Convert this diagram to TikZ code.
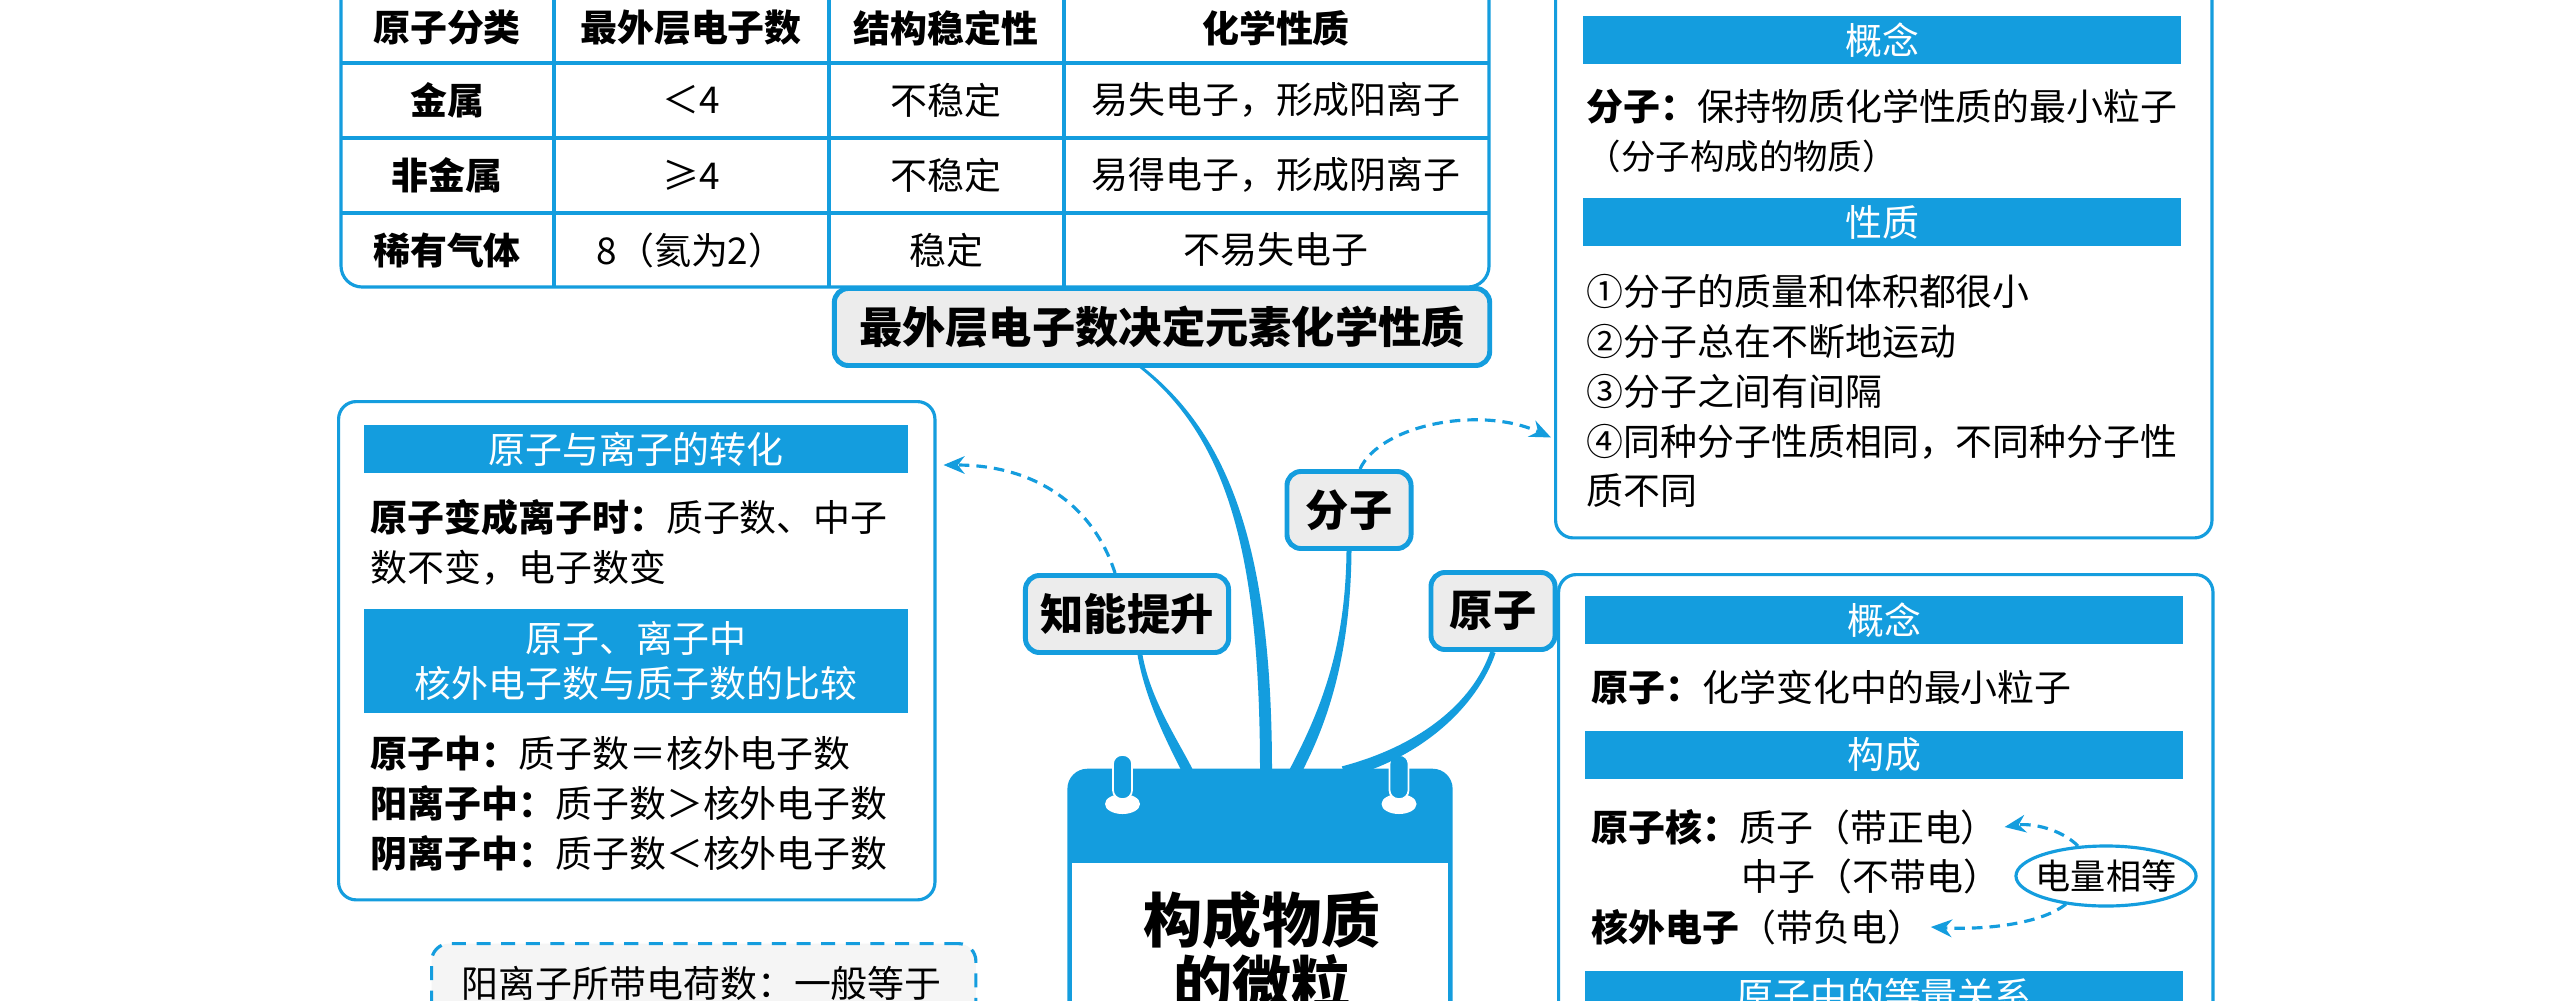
\documentclass[tikz,border=0pt]{standalone}
\usepackage{fontspec}
\setmainfont{Noto Sans CJK SC}
\usepackage{xcolor}
\usepackage{tikz}
\usetikzlibrary{arrows.meta,calc}

\definecolor{mainblue}{RGB}{20,157,222}
\definecolor{boxgray}{RGB}{236,236,236}
\newcommand\bodyfont{\fontsize{10.5pt}{14.2pt}\selectfont}
% thick branch that gets wider towards the calendar
\newcommand\taperlink[6]{%
  \fill[mainblue] ($#1-#5$) .. controls ($#2-#5$) and ($#3-#6$) .. ($#4-#6$)
    -- ($#4+#6$) .. controls ($#3+#6$) and ($#2+#5$) .. ($#1+#5$) -- cycle;}

\begin{document}
\begin{tikzpicture}[x=0.01cm,y=-0.01cm,
  bar/.style={fill=mainblue,text=white,inner sep=0pt,minimum width=5.98cm,minimum height=0.48cm,font=\bodyfont,align=center},
  panel/.style={draw=mainblue,line width=0.9pt,rounded corners=5pt,anchor=north west,inner sep=0pt},
  branch/.style={draw=mainblue,fill=boxgray,line width=1.4pt,rounded corners=4pt,inner sep=0pt,minimum height=0.77cm,font=\bfseries\fontsize{12.3pt}{14pt}\selectfont},
  body/.style={anchor=west,align=left,inner sep=0pt,font=\bodyfont},
  cell/.style={inner sep=0pt,font=\bodyfont},
  tableline/.style={draw=mainblue,line width=0.9pt},
  dasharrow/.style={draw=mainblue,line width=0.9pt,dash pattern=on 3pt off 2pt,-{Stealth[length=6pt,width=5pt]}}]
\path[use as bounding box,fill=white] (0,0) rectangle (2552,1000);
\clip (0,0) rectangle (2552,1000);

% table
\draw[tableline,rounded corners=6pt] (341,-30) -- (341,287) -- (1489,287) -- (1489,-30);
\foreach \x in {554,829,1064} \draw[tableline] (\x,-30) -- (\x,287);
\foreach \y in {63,138,213} \draw[tableline] (341,\y) -- (1489,\y);
\foreach \t/\x [count=\k] in {原子分类/447,最外层电子数/691,结构稳定性/946,化学性质/1276}
  \node[cell,font=\bodyfont\bfseries] (hd-\k) at (\x,28) {\t};
\foreach \a/\b/\c/\d [count=\i] in {金属/＜4/不稳定/易失电子，形成阳离子,非金属/≥4/不稳定/易得电子，形成阴离子,稀有气体/8（氦为2）/稳定/不易失电子}{
  \node[cell,font=\bodyfont\bfseries] (cls-\i) at (447,25+75*\i) {\a};
  \node[cell] (num-\i) at (691,25+75*\i) {\b};
  \node[cell] (stab-\i) at (946,25+75*\i) {\c};
  \node[cell] (prop-\i) at (1276,25+75*\i) {\d};
}
\node[branch,minimum width=6.55cm] (jue) at (1162,327) {最外层电子数决定元素化学性质};

% left panel
\node[panel,minimum width=5.96cm,minimum height=4.98cm] (lbox) at (337,400) {};
\node[bar,minimum width=5.43cm] (lbar1) at (636,449) {原子与离子的转化};
\node[body] (ltxt1) at (370,542) {\textbf{原子变成离子时：}质子数、中子\\数不变，电子数变};
\node[bar,minimum width=5.43cm,minimum height=1.04cm,font=\fontsize{10.5pt}{12.8pt}\selectfont] (lbar2) at (636,661) {原子、离子中\\核外电子数与质子数的比较};
\node[body] (ltxt2) at (370,804) {\textbf{原子中：}质子数＝核外电子数\\\textbf{阳离子中：}质子数＞核外电子数\\\textbf{阴离子中：}质子数＜核外电子数};

\node[panel,dash pattern=on 4pt off 3pt,fill=gray!8,minimum width=5.44cm,minimum height=1.5cm] (dbox) at (430,942) {};
\node[body] (dtxt) at (461,983) {阳离子所带电荷数：一般等于};

% branches
\node[branch,minimum width=2.03cm] (zhi) at (1127,614) {知能提升};
\node[branch,minimum width=1.24cm] (fz) at (1349,510) {分子};
\node[branch,minimum width=1.24cm] (yz) at (1493,611) {原子};

% calendar
\node[fill=mainblue,rounded corners=0.2cm,minimum width=3.85cm,minimum height=4cm,anchor=north,inner sep=0pt] (cal) at (1260,768) {};
\fill[white] ($(cal.north west)+(5,95)$) rectangle ($(cal.south east)+(-5,0)$);
\foreach \x in {-137.5,139}{
  \fill[white] ($(cal.north)+(\x,36)$) ellipse [x radius=0.175cm,y radius=0.1cm];
  \filldraw[fill=mainblue,draw=white,line width=0.5pt,rounded corners=2.5pt] ($(cal.north)+(\x-9.5,-13)$) rectangle ($(cal.north)+(\x+9.5,31)$);
}
\node[font=\bfseries\fontsize{16.8pt}{18pt}\selectfont,align=center,inner sep=0pt] (caltitle) at (1262,951) {构成物质\\的微粒};

\coordinate (j0) at ($(jue.south)+(-20,0)$);
\coordinate (j1) at ($(cal.north)+(6,4)$);
\taperlink{(j0)}{(1232,440)}{(1266,560)}{(j1)}{(2.3,0)}{(6,0)}
\coordinate (z0) at ($(zhi.south)+(13,0)$);
\coordinate (z1) at ($(cal.north)+(-72,4)$);
\taperlink{(z0)}{(1148,700)}{(1172,740)}{(z1)}{(2.5,0)}{(6,0)}
\coordinate (f0) at (fz.south);
\coordinate (f1) at ($(cal.north)+(35,4)$);
\taperlink{(f0)}{(1348,650)}{(1325,715)}{(f1)}{(2.5,0)}{(5.5,2.5)}
\coordinate (y0) at (yz.south);
\coordinate (y1) at ($(cal.north)+(84,4)$);
\taperlink{(y0)}{(1475,705)}{(1420,752)}{(y1)}{(2.5,1)}{(2.2,5.6)}

% right panels
\node[panel,minimum width=6.56cm,minimum height=5.6cm] (rtop) at (1554,-24) {};
\node[bar] (rbar1) at (1882,40) {概念};
\node[body] (rtxt1) at (1586,131) {\textbf{分子：}保持物质化学性质的最小粒子\\{\fontsize{9.8pt}{13pt}\selectfont （分子构成的物质）}};
\node[bar] (rbar2) at (1882,222) {性质};
\node[body] (rtxt2) at (1586,391) {①分子的质量和体积都很小\\②分子总在不断地运动\\③分子之间有间隔\\④同种分子性质相同，不同种分子性\\质不同};

\node[panel,minimum width=6.54cm,minimum height=6cm] (rbot) at (1557,573) {};
\node[bar] (rbar3) at (1884,620) {概念};
\node[body] (atxt) at (1591,688) {\textbf{原子：}化学变化中的最小粒子};
\node[bar] (rbar4) at (1884,755) {构成};
\node[body] (pro) at (1591,827) {\textbf{原子核：}质子（带正电）};
\node[body] (neu) at (1741,876) {中子（不带电）};
\node[body] (ele) at (1591,927) {\textbf{核外电子}（带负电）};
\node[inner sep=0pt,font=\fontsize{10pt}{12pt}\selectfont] (eq) at (2106,876) {电量相等};
\draw[mainblue,line width=0.9pt] (eq.center) ellipse [x radius=0.9cm,y radius=0.3cm];
\node[bar] (rbar5) at (1884,995) {原子中的等量关系};

% dashed links
\coordinate (ltip) at ($(lbox.north east)+(7,65)$);
\draw[dasharrow] ($(zhi.north)+(-12,0)$) .. controls (1095,510) and (1040,465) .. (ltip);
\coordinate (rtip) at ($(rtop.south west)+(-3,-102)$);
\draw[dasharrow] ($(fz.north)+(11,0)$) .. controls (1380,425) and (1480,405) .. (rtip);
\draw[dasharrow] ($(eq.center)+(-28,-30)$) .. controls (2060,828) and (2030,823) .. ($(pro.east)+(6,0)$);
\draw[dasharrow] ($(eq.center)+(-40,28)$) .. controls (2040,925) and (1980,930) .. ($(ele.east)+(6,0)$);
\end{tikzpicture}
\end{document}
